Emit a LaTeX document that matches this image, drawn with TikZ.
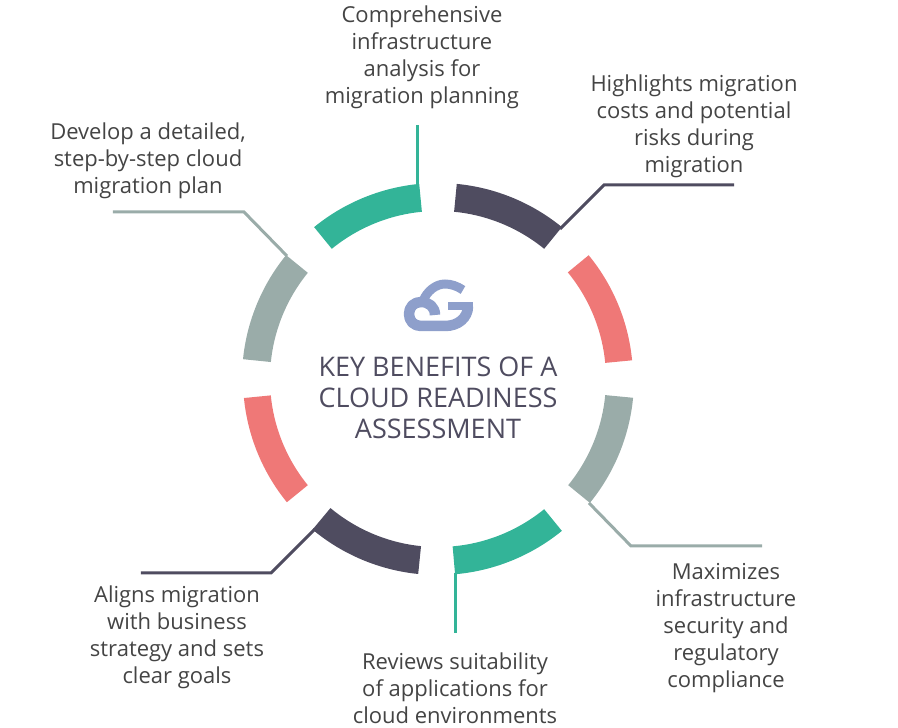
\documentclass[tikz,border=0pt]{standalone}
\usepackage{fontspec}
\setmainfont{Open Sans}
\definecolor{segGreen}{HTML}{33B498}
\definecolor{segDark}{HTML}{4F4C60}
\definecolor{segRed}{HTML}{EF7877}
\definecolor{segGray}{HTML}{9AACA9}
\definecolor{logoBlue}{HTML}{8E9FCB}
\definecolor{txtGray}{HTML}{444444}

\begin{document}
\begin{tikzpicture}[x=1pt, y=1pt,
    lab/.style={font=\fontsize{22}{27}\selectfont, text=txtGray, align=center, inner sep=0pt},
    conn/.style={line width=3pt, line join=miter},
    titlelab/.style={font=\fontsize{27}{31}\selectfont, text=segDark, align=center, inner sep=0pt}]
  \useasboundingbox (-438,-349) rectangle (460,379);
  % ---- ring
  \fill[segGreen] (95.5:196) arc[start angle=95.5, end angle=129.2, radius=196] -- (129.2:168) arc[start angle=129.2, end angle=95.5, radius=168] -- cycle;
  \fill[segDark] (50.8:196) arc[start angle=50.8, end angle=84.5, radius=196] -- (84.5:168) arc[start angle=84.5, end angle=50.8, radius=168] -- cycle;
  \fill[segRed] (5.5:195) arc[start angle=5.5, end angle=39.4, radius=195] -- (39.4:168) arc[start angle=39.4, end angle=5.5, radius=168] -- cycle;
  \fill[segGray] (-39.2:196) arc[start angle=-39.2, end angle=-5.5, radius=196] -- (-5.5:168) arc[start angle=-5.5, end angle=-39.2, radius=168] -- cycle;
  \fill[segGreen] (-85:196) arc[start angle=-85, end angle=-50.8, radius=196] -- (-50.8:168) arc[start angle=-50.8, end angle=-85, radius=168] -- cycle;
  \fill[segDark] (-129.8:196) arc[start angle=-129.8, end angle=-95.8, radius=196] -- (-95.8:168) arc[start angle=-95.8, end angle=-129.8, radius=168] -- cycle;
  \fill[segRed] (-174.4:195) arc[start angle=-174.4, end angle=-140.8, radius=195] -- (-140.8:168) arc[start angle=-140.8, end angle=-174.4, radius=168] -- cycle;
  \fill[segGray] (140.8:196) arc[start angle=140.8, end angle=174.2, radius=196] -- (174.2:168) arc[start angle=174.2, end angle=140.8, radius=168] -- cycle;
  % ---- connectors
  \coordinate (topEnd) at (-20,254); \coordinate (topSeg) at (-20,195);
  \coordinate (riskEnd) at (296,194); \coordinate (riskKnee) at (166,194); \coordinate (riskSeg) at (122,150);
  \coordinate (secEnd) at (324,-167); \coordinate (secKnee) at (193,-167); \coordinate (secSeg) at (151,-124);
  \coordinate (botEnd) at (17.5,-254); \coordinate (botSeg) at (17.5,-194);
  \coordinate (goalEnd) at (-297,-194); \coordinate (goalKnee) at (-167,-194); \coordinate (goalSeg) at (-123,-150);
  \coordinate (planEnd) at (-325,167); \coordinate (planKnee) at (-194,167); \coordinate (planSeg) at (-151,123);
  \draw[conn, segGreen] (topEnd) -- (topSeg);
  \draw[conn, segDark] (riskEnd) -- (riskKnee) -- (riskSeg);
  \draw[conn, segGray] (secEnd) -- (secKnee) -- (secSeg);
  \draw[conn, segGreen] (botEnd) -- (botSeg);
  \draw[conn, segDark] (goalEnd) -- (goalKnee) -- (goalSeg);
  \draw[conn, segGray] (planEnd) -- (planKnee) -- (planSeg);
  % ---- logo
  \draw[logoBlue, line width=9pt]
    (25,89) .. controls (19,93) and (13,95) .. (7,95)
    .. controls (-2,95) and (-11,88) .. (-15,78);
  \draw[logoBlue, line width=10.5pt, line join=round]
    (-3,64) .. controls (-3,72) and (-9,77) .. (-17,77)
    .. controls (-24,77) and (-29,72) .. (-29,65)
    .. controls (-29,58) and (-24,53) .. (-17,53)
    -- (7,53) .. controls (20,53) and (30,61) .. (30,73);
  \fill[logoBlue] (10,77) rectangle (34.7,69);
  % ---- labels
  \node[titlelab] (titleLab) at (0,-19) {KEY BENEFITS OF A\\CLOUD READINESS\\ASSESSMENT};
  \node[lab] (topLab) at (-16,322) {Comprehensive\\infrastructure\\analysis for\\migration planning};
  \node[lab] (riskLab) at (256,252.5) {Highlights migration\\costs and potential\\risks during\\migration};
  \node[lab] (secLab) at (288,-249) {Maximizes\\infrastructure\\security and\\regulatory\\compliance};
  \node[lab] (botLab) at (17,-309) {Reviews suitability\\of applications for\\cloud environments};
  \node[lab] (goalLab) at (-261,-258) {Aligns migration\\with business\\strategy and sets\\clear goals};
  \node[lab] (planLab) at (-290,218.5) {Develop a detailed,\\step-by-step cloud\\migration plan};
\end{tikzpicture}
\end{document}
